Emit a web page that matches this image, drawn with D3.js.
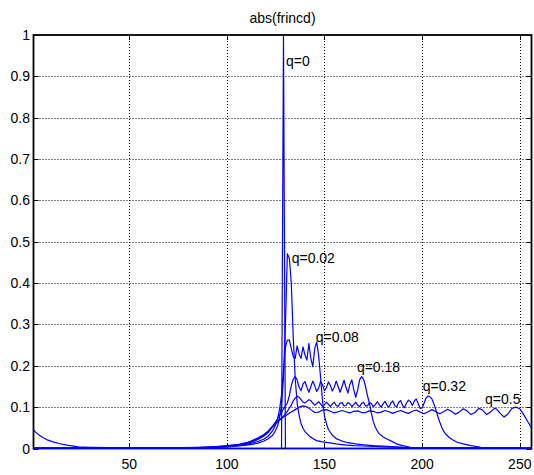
<!DOCTYPE html>
<html>
<head>
<meta charset="utf-8">
<script src="https://cdn.jsdelivr.net/npm/d3@7"></script>
<style>
  html, body { margin: 0; padding: 0; background: #fff; }
  svg { display: block; }
  text { font-family: "Liberation Sans", Arial, Helvetica, sans-serif; fill: #000; }
</style>
</head>
<body>
<svg id="chart" width="534" height="475"></svg>
<script>
// Magnitude of the chirp spectra, one series per chirp rate q.
const qNames = ["q=0", "q=0.02", "q=0.08", "q=0.18", "q=0.32", "q=0.5"];

const magQ0 = [[1,0],[128,0],[129,1],[130,0],[256,0]];

const magQ002 = [
  [1,0.001],[40,0.001],[70,0.002],[85,0.002],[95,0.003],[100,0.004],[106,0.006],[110,0.008],
  [113,0.01],[116,0.013],[119,0.018],[121,0.023],[123,0.03],[124,0.036],[125,0.044],[126,0.055],
  [127,0.075],[128,0.105],[129,0.17],[130,0.3],[131,0.471],[132,0.46],[133,0.4],[134,0.27],
  [135,0.17],[136,0.11],[137,0.08],[138,0.06],[139,0.049],[140,0.041],[142,0.031],[144,0.024],
  [146,0.019],[149,0.016],[152,0.014],[156,0.011],[160,0.009],[165,0.007],[170,0.006],
  [180,0.004],[195,0.002],[220,0.001],[256,0.001]
];

const magQ008 = [
  [1,0.001],[60,0.001],[85,0.002],[95,0.003],[100,0.004],[106,0.007],[110,0.01],[113,0.013],
  [116,0.017],[119,0.023],[121,0.029],[123,0.04],[124,0.048],[125,0.058],[126,0.072],[127,0.095],
  [128,0.13],[129,0.19],[130,0.245],[131,0.262],[132,0.262],[133,0.242],[134,0.222],[135,0.218],
  [136,0.248],[137,0.228],[138,0.218],[139,0.246],[140,0.226],[141,0.214],[142,0.254],[143,0.218],
  [144,0.198],[145,0.242],[146,0.258],[147,0.225],[148,0.172],[149,0.115],[150,0.078],[151,0.06],
  [152,0.046],[154,0.032],[156,0.024],[159,0.018],[162,0.014],[166,0.011],[170,0.009],
  [175,0.007],[182,0.005],[190,0.003],[205,0.002],[230,0.001],[256,0.001]
];

const magQ018 = [
  [1,0.001],[60,0.001],[85,0.002],[95,0.004],[100,0.005],[106,0.008],[110,0.012],[113,0.016],
  [116,0.022],[119,0.03],[121,0.038],[123,0.05],[124,0.058],[125,0.065],[126,0.072],[127,0.08],
  [128,0.088],[129,0.096],[130,0.103],[131,0.11],[132,0.128],[133,0.152],[134,0.168],[135,0.174],
  [136,0.166],[137,0.148],[138,0.14],[139,0.156],[140,0.162],[141,0.148],[142,0.136],[143,0.15],
  [144,0.163],[145,0.152],[146,0.138],[147,0.146],[148,0.162],[149,0.154],[150,0.14],[151,0.147],
  [152,0.161],[153,0.152],[154,0.139],[155,0.148],[156,0.163],[157,0.15],[158,0.136],[159,0.15],
  [160,0.165],[161,0.148],[162,0.134],[163,0.155],[164,0.166],[165,0.142],[166,0.124],[167,0.142],
  [168,0.166],[169,0.174],[170,0.168],[171,0.15],[172,0.128],[173,0.11],[174,0.085],[175,0.065],
  [176,0.052],[177,0.043],[178,0.036],[180,0.028],[182,0.023],[185,0.016],[187,0.011],
  [190,0.007],[194,0.003],[210,0.002],[256,0.001]
];

const magQ032 = [
  [1,0.001],[60,0.001],[85,0.003],[95,0.004],[100,0.006],[106,0.009],[110,0.013],[113,0.018],
  [116,0.024],[119,0.032],[121,0.04],[123,0.05],[125,0.06],[127,0.068],[129,0.078],[131,0.09],
  [133,0.105],[134,0.115],[135,0.122],[136,0.126],[137,0.124],[138,0.118],[139,0.112],[140,0.11],
  [141,0.114],[142,0.118],[143,0.116],[144,0.11],[145,0.105],[146,0.109],[147,0.113],[148,0.108],
  [149,0.102],[150,0.106],[151,0.112],[152,0.107],[153,0.101],[154,0.108],[155,0.112],[156,0.104],
  [157,0.102],[158,0.11],[159,0.111],[160,0.103],[161,0.104],[162,0.111],[163,0.108],[164,0.101],
  [165,0.106],[166,0.112],[167,0.105],[168,0.101],[169,0.109],[170,0.112],[171,0.103],[172,0.103],
  [173,0.111],[174,0.109],[175,0.101],[176,0.106],[177,0.113],[178,0.106],[179,0.1],[180,0.108],
  [181,0.114],[182,0.105],[183,0.1],[184,0.11],[185,0.115],[186,0.104],[187,0.1],[188,0.112],
  [189,0.116],[190,0.104],[191,0.099],[192,0.11],[193,0.117],[194,0.113],[195,0.104],[196,0.115],
  [197,0.12],[198,0.108],[199,0.097],[200,0.098],[201,0.11],[202,0.122],[203,0.127],[204,0.125],
  [205,0.12],[206,0.108],[207,0.094],[208,0.078],[209,0.064],[210,0.052],[211,0.042],[212,0.035],
  [214,0.026],[216,0.02],[218,0.015],[221,0.011],[225,0.007],[230,0.003],[238,0.001],[256,0.001]
];

const magQ05 = [
  [1,0.045],[2,0.04],[3,0.036],[4,0.032],[6,0.026],[8,0.021],[11,0.016],[14,0.012],[18,0.008],
  [24,0.004],[30,0.003],[40,0.002],[60,0.001],[80,0.002],[90,0.003],[100,0.007],[106,0.01],
  [110,0.014],[113,0.019],[116,0.026],[119,0.034],[121,0.042],[123,0.052],[125,0.062],[127,0.07],
  [129,0.076],[131,0.082],[133,0.088],[135,0.094],[137,0.1],[139,0.103],[141,0.101],[143,0.094],
  [145,0.087],[147,0.088],[149,0.093],[151,0.094],[153,0.09],[155,0.086],[157,0.089],[159,0.092],
  [161,0.089],[163,0.086],[165,0.09],[167,0.091],[169,0.087],[171,0.087],[173,0.091],[175,0.09],
  [177,0.086],[179,0.088],[181,0.092],[183,0.089],[185,0.085],[187,0.089],[189,0.092],[191,0.088],
  [193,0.085],[195,0.09],[197,0.093],[199,0.088],[201,0.084],[203,0.089],[205,0.094],[207,0.089],
  [209,0.084],[211,0.089],[213,0.095],[215,0.09],[217,0.083],[219,0.088],[221,0.096],[223,0.091],
  [225,0.082],[227,0.087],[229,0.097],[231,0.093],[233,0.082],[235,0.088],[237,0.097],[238,0.096],
  [240,0.085],[242,0.076],[244,0.084],[246,0.097],[248,0.1],[250,0.096],[252,0.082],[254,0.066],
  [256,0.05]
];

const seriesList = [magQ0, magQ002, magQ008, magQ018, magQ032, magQ05];

// Text annotations, in data coordinates (bin, magnitude).
const nameAt = [[130.3,0.938],[133.2,0.46],[145.5,0.27],[166.6,0.198],[200.3,0.152],[232.2,0.119]];

const xTicks = [50, 100, 150, 200, 250];
const yTicks = [0, 0.1, 0.2, 0.3, 0.4, 0.5, 0.6, 0.7, 0.8, 0.9, 1];
const titleText = "abs(frincd)";

// ---- layout ----
const svg = d3.select("#chart");
const plotL = 33.5, plotR = 531.5, plotT = 35, plotB = 448.5;
const x = d3.scaleLinear().domain([1, 256]).range([plotL, plotR]);
const y = d3.scaleLinear().domain([0, 1]).range([plotB, plotT]);

svg.append("rect").attr("width", 534).attr("height", 475).attr("fill", "#fff");

// dotted grid
const grid = svg.append("g").attr("stroke", "#000").attr("stroke-width", 1)
  .attr("stroke-dasharray", "1,2").attr("fill", "none");
grid.selectAll("line.gx").data(xTicks).join("line")
  .attr("x1", d => Math.round(x(d)) + 0.5).attr("x2", d => Math.round(x(d)) + 0.5)
  .attr("y1", plotT).attr("y2", plotB);
grid.selectAll("line.gy").data(yTicks.filter(d => d > 0 && d < 1)).join("line")
  .attr("y1", d => Math.round(y(d)) + 0.5).attr("y2", d => Math.round(y(d)) + 0.5)
  .attr("x1", plotL).attr("x2", plotR);

// inward ticks on all four sides
const tk = svg.append("g").attr("stroke", "#000").attr("stroke-width", 1);
xTicks.forEach(d => {
  const px = Math.round(x(d)) + 0.5;
  tk.append("line").attr("x1", px).attr("x2", px).attr("y1", plotB).attr("y2", plotB - 5);
  tk.append("line").attr("x1", px).attr("x2", px).attr("y1", plotT).attr("y2", plotT + 5);
});
yTicks.forEach(d => {
  const py = Math.round(y(d)) + 0.5;
  tk.append("line").attr("y1", py).attr("y2", py).attr("x1", plotL).attr("x2", plotL + 5);
  tk.append("line").attr("y1", py).attr("y2", py).attr("x1", plotR).attr("x2", plotR - 5);
});

// box
svg.append("rect").attr("x", plotL).attr("y", plotT)
  .attr("width", plotR - plotL).attr("height", plotB - plotT)
  .attr("fill", "none").attr("stroke", "#000").attr("stroke-width", 1.8);

// curves, drawn over the frame
svg.append("clipPath").attr("id", "plotclip").append("rect")
  .attr("x", plotL).attr("y", plotT - 1).attr("width", plotR - plotL).attr("height", plotB - plotT + 3);
const line = d3.line().x(d => x(d[0])).y(d => y(d[1]));
svg.append("g").attr("clip-path", "url(#plotclip)")
  .selectAll("path").data(seriesList).join("path")
  .attr("d", line).attr("fill", "none").attr("stroke", "#0000ff")
  .attr("stroke-width", 1.2).attr("stroke-linejoin", "round");

// tick labels
svg.append("g").selectAll("text").data(xTicks).join("text")
  .attr("x", d => x(d)).attr("y", 468.5).attr("text-anchor", "middle")
  .attr("font-size", 14).text(d => d);
svg.append("g").selectAll("text").data(yTicks).join("text")
  .attr("x", 30).attr("y", d => y(d) + 5).attr("text-anchor", "end")
  .attr("font-size", 14).text(d => d3.format("~g")(d));

// series names
svg.append("g").selectAll("text").data(qNames).join("text")
  .attr("x", (d, i) => x(nameAt[i][0])).attr("y", (d, i) => y(nameAt[i][1]) + 5)
  .attr("font-size", 14).text(d => d);

// title
svg.append("text").attr("x", (plotL + plotR) / 2).attr("y", 22.5)
  .attr("text-anchor", "middle").attr("font-size", 14).text(titleText);
</script>
</body>
</html>
